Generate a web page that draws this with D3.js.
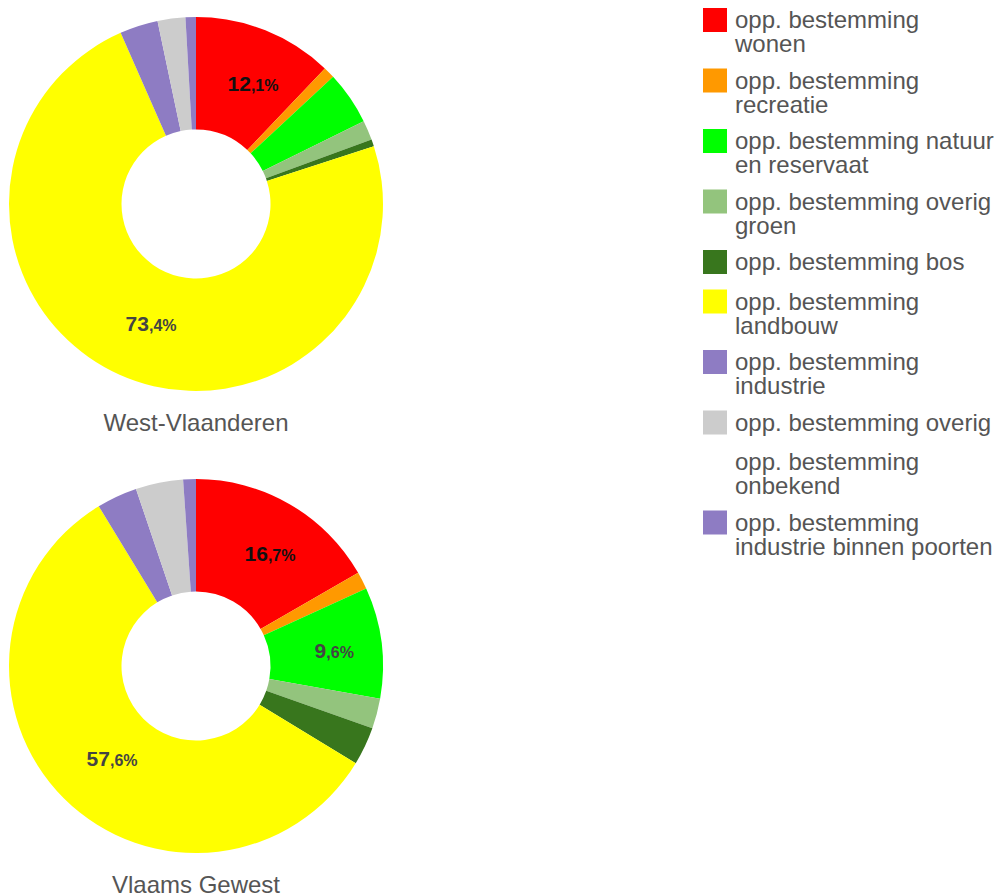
<!DOCTYPE html>
<html>
<head>
<meta charset="utf-8">
<script src="https://cdn.jsdelivr.net/npm/d3@7"></script>
<style>
  body { margin: 0; background: #fff; }
  svg { display: block; font-family: "Liberation Sans", Arial, sans-serif; }
</style>
</head>
<body>
<svg id="chart" width="998" height="895"></svg>
<script>
var categories = [
  "opp. bestemming wonen",
  "opp. bestemming recreatie",
  "opp. bestemming natuur en reservaat",
  "opp. bestemming overig groen",
  "opp. bestemming bos",
  "opp. bestemming landbouw",
  "opp. bestemming industrie",
  "opp. bestemming overig",
  "opp. bestemming onbekend",
  "opp. bestemming industrie binnen poorten"
];

var colors = ["#ff0000", "#ff9900", "#00ff00", "#93c47d", "#38761d",
              "#ffff00", "#8e7cc3", "#cccccc", "none", "#8e7cc3"];

// percentages per region
var westVlaanderen = [12.1, 1.0, 4.6, 1.7, 0.6, 73.4, 3.3, 2.4, 0, 0.9];
var vlaamsGewest   = [16.7, 1.5, 9.6, 2.6, 3.3, 57.6, 3.5, 4.1, 0, 1.1];

var regions = ["West-Vlaanderen", "Vlaams Gewest"];
var regionValues = [westVlaanderen, vlaamsGewest];

var svg = d3.select("#chart");

var outerR = 187, innerR = 74.5;
var centers = [{x: 196, y: 204}, {x: 196, y: 666}];

var pie = d3.pie()
    .sort(null)
    .value(function(d) { return d.value; });

var arc = d3.arc()
    .innerRadius(innerR)
    .outerRadius(outerR);

var labelArc = d3.arc()
    .innerRadius((innerR + outerR) / 2)
    .outerRadius((innerR + outerR) / 2);

regionValues.forEach(function(vals, r) {
  var data = vals.map(function(v, i) {
    return {name: categories[i], value: v, color: colors[i], idx: i};
  });

  var g = svg.append("g")
      .attr("transform", "translate(" + centers[r].x + "," + centers[r].y + ")");

  g.selectAll("path")
      .data(pie(data))
      .enter().append("path")
      .attr("d", arc)
      .attr("fill", function(d) { return d.data.color; });

  var labels = g.selectAll("text.val")
      .data(pie(data).filter(function(d) { return d.data.value >= 5; }))
      .enter().append("text")
      .attr("class", "val")
      .attr("text-anchor", "middle")
      .attr("font-weight", "bold")
      .attr("fill", function(d) { return d.data.idx === 0 ? "#111" : "#444"; })
      .attr("transform", function(d) {
        var c = labelArc.centroid(d);
        return "translate(" + (c[0] + 8.5) + "," + (c[1] + 8) + ")";
      });

  labels.append("tspan")
      .attr("font-size", 21)
      .text(function(d) { return Math.floor(d.data.value); });

  labels.append("tspan")
      .attr("font-size", 16)
      .text(function(d) {
        return "," + d.data.value.toFixed(1).split(".")[1] + "%";
      });

  svg.append("text")
      .attr("x", centers[r].x)
      .attr("y", centers[r].y + 227)
      .attr("text-anchor", "middle")
      .attr("font-size", 24)
      .attr("fill", "#555")
      .text(regions[r]);
});

// legend
var legend = svg.append("g").attr("class", "legend");
var maxW = 260, lineH = 24;
var itemY = 8;

categories.forEach(function(name, i) {
  var item = legend.append("g");
  if (colors[i] !== "none") {
    item.append("rect")
        .attr("x", 703)
        .attr("y", itemY)
        .attr("width", 24)
        .attr("height", 24)
        .attr("fill", colors[i]);
  }
  var text = item.append("text")
      .attr("x", 735)
      .attr("y", itemY + 20)
      .attr("font-size", 24)
      .attr("fill", "#555");

  // simple word wrap
  var words = name.split(" "), line = [], lines = 1;
  var tspan = text.append("tspan").attr("x", 735);
  words.forEach(function(w) {
    line.push(w);
    tspan.text(line.join(" "));
    if (tspan.node().getComputedTextLength() > maxW && line.length > 1) {
      line.pop();
      tspan.text(line.join(" "));
      line = [w];
      tspan = text.append("tspan").attr("x", 735).attr("dy", lineH).text(w);
      lines++;
    }
  });

  itemY += 39.5 + (lines - 1) * 21;
});
</script>
</body>
</html>
